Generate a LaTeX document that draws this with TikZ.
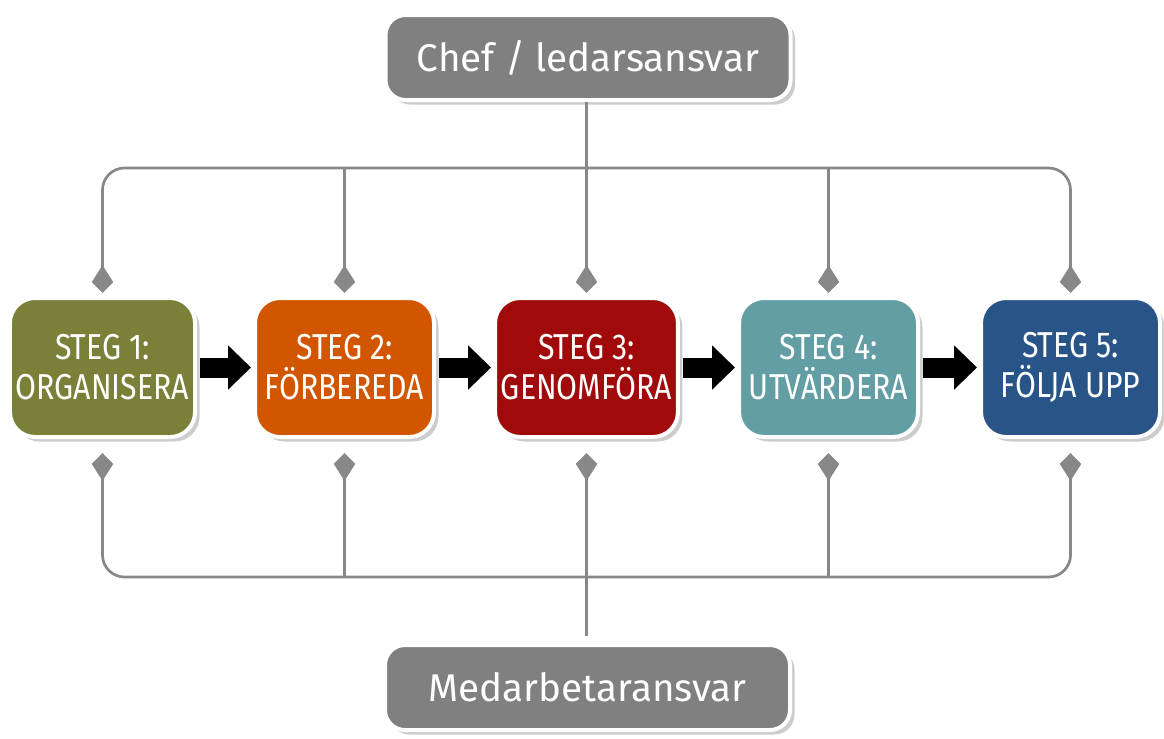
\documentclass[tikz,border=0pt]{standalone}
\usepackage{fontspec}
\setmainfont{Fira Sans}
\newfontfamily\handfont{Fira Sans}[FakeStretch=0.84]
\usetikzlibrary{arrows.meta,shadows}
\definecolor{stegone}{RGB}{122,128,56}
\definecolor{stegtwo}{RGB}{210,86,0}
\definecolor{stegthree}{RGB}{160,10,10}
\definecolor{stegfour}{RGB}{98,158,164}
\definecolor{stegfive}{RGB}{40,84,136}
\definecolor{boxgray}{RGB}{128,128,128}
\definecolor{linegray}{RGB}{136,136,136}

\begin{document}
\begin{tikzpicture}[x=0.2mm,y=-0.2mm,
	steg/.style={shape=rectangle,rounded corners=5mm,draw=white,line width=0.8mm,minimum width=35.8mm,minimum height=27.8mm,text=white,align=center,font=\handfont\fontsize{20.5}{22.7}\selectfont,drop shadow={shadow xshift=0.9mm,shadow yshift=-0.9mm,opacity=0.4}},
	ansvar/.style={steg,fill=boxgray,rounded corners=4mm,minimum width=81mm,minimum height=17mm,font=\fontsize{22}{26}\selectfont},
	feed/.style={draw=linegray,line width=0.54mm,-{Stealth[length=2.2mm,width=4mm,inset=-3.4mm]}},
	flow/.style={draw=black,line width=4mm,-{Triangle[length=4.6mm,width=8.6mm]},shorten <=0.6mm,shorten >=0.4mm}]
	\useasboundingbox (0,0) rectangle (1164,738);
	\node[steg,fill=stegone] (s1) at (102.5,367.5) {STEG 1:\\ORGANISERA};
	\node[steg,fill=stegtwo] (s2) at (344.5,367.5) {STEG 2:\\FÖRBEREDA};
	\node[steg,fill=stegthree] (s3) at (586.5,367.5) {STEG 3:\\GENOMFÖRA};
	\node[steg,fill=stegfour] (s4) at (828.5,367.5) {STEG 4:\\UTVÄRDERA};
	\node[steg,fill=stegfive] (s5) at (1070.5,367.5) {STEG 5:\\FÖLJA UPP};
	\node[ansvar] (chef) at (588,57.5) {Chef / ledarsansvar};
	\node[ansvar] (medarb) at (587.5,687.5) {Medarbetaransvar};
	\coordinate (ht) at (586.5,168);
	\coordinate (hb) at (586.5,577);
	\coordinate (ht2) at (344.5,168);
	\coordinate (ht4) at (828.5,168);
	\coordinate (hb2) at (344.5,577);
	\coordinate (hb4) at (828.5,577);
	\path [flow] (s1) edge (s2);
	\path [flow] (s2) edge (s3);
	\path [flow] (s3) edge (s4);
	\path [flow] (s4) edge (s5);
	\draw [feed,shorten >=0.6mm] (ht) [rounded corners=4.4mm] -| (s1) [sharp corners];
	\draw [feed,shorten >=0.6mm] (ht) [rounded corners=4.4mm] -| (s5) [sharp corners];
	\draw [feed,shorten >=0.6mm] (ht2) -- (s2);
	\draw [feed,shorten >=0.6mm] (ht4) -- (s4);
	\draw [feed,shorten >=0.6mm] (chef.south -| s3) -- (s3);
	\draw [feed,shorten >=2.8mm] (hb) [rounded corners=4.4mm] -| (s1) [sharp corners];
	\draw [feed,shorten >=2.8mm] (hb) [rounded corners=4.4mm] -| (s5) [sharp corners];
	\draw [feed,shorten >=2.8mm] (hb2) -- (s2);
	\draw [feed,shorten >=2.8mm] (hb4) -- (s4);
	\draw [feed,shorten >=2.8mm,shorten <=1.4mm] (medarb.north -| s3) -- (s3);
\end{tikzpicture}
\end{document}
